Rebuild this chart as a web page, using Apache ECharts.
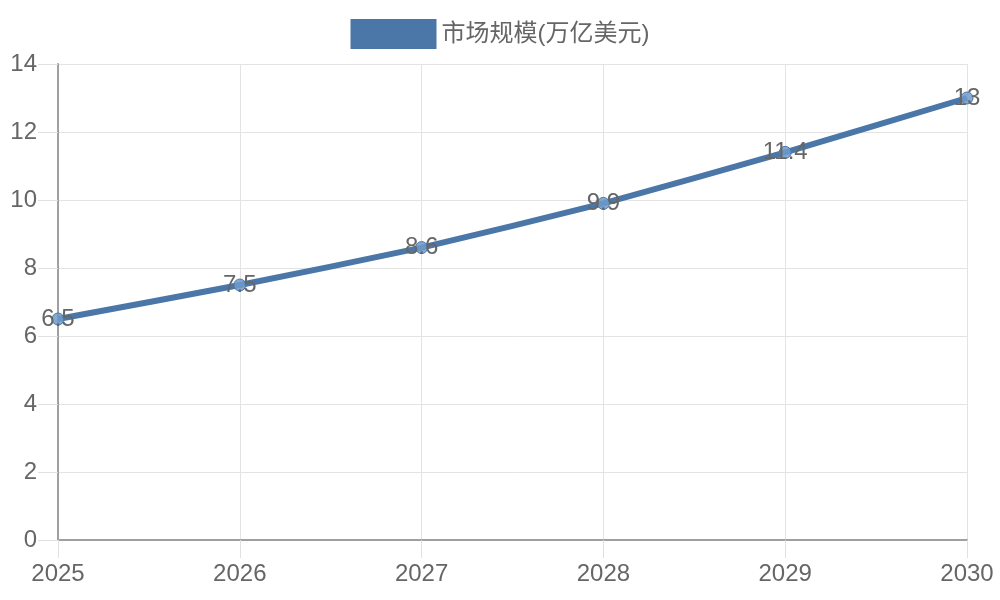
<!DOCTYPE html>
<html>
<head>
    <meta charset="utf-8">
    <style>
        html, body { margin: 0; padding: 0; background: #fff; }
        #chart { width: 1000px; height: 600px; }
    </style>
    <script src="https://cdn.jsdelivr.net/npm/echarts@6/dist/echarts.min.js"></script>
</head>
<body>
    <div id="chart"></div>
    <script type="text/javascript">
        // 数据
        var years = ['2025', '2026', '2027', '2028', '2029', '2030'];
        var marketSize = [6.5, 7.5, 8.6, 9.9, 11.4, 13];
        var seriesName = '市场规模(万亿美元)';

        var lineColor = '#4a77a8';
        var fontFamily = '"Liberation Sans", Arial, "Noto Sans CJK SC", sans-serif';

        var myChart = echarts.init(document.getElementById('chart'));
        myChart.setOption({
            animation: false,
            textStyle: { fontFamily: fontFamily },
            legend: {
                top: 14,
                left: 'center',
                icon: 'rect',
                itemWidth: 86,
                itemHeight: 30,
                itemGap: 10,
                itemStyle: { color: lineColor, borderWidth: 0 },
                textStyle: { fontSize: 24, color: '#666', fontFamily: fontFamily, padding: [0, 0, 0, 0] },
                data: [seriesName]
            },
            grid: { left: 58, right: 33, top: 64, bottom: 60 },
            xAxis: {
                type: 'category',
                data: years,
                boundaryGap: false,
                axisLine: { lineStyle: { color: '#a0a0a0', width: 2 } },
                axisTick: { show: true, length: 18, lineStyle: { color: '#e0e0e0', width: 1 } },
                axisLabel: { fontSize: 24, color: '#666', margin: 22 },
                splitLine: { show: true, lineStyle: { color: '#e3e3e3', width: 1 } }
            },
            yAxis: {
                type: 'value',
                min: 0,
                max: 14,
                interval: 2,
                axisLine: { show: true, lineStyle: { color: '#a0a0a0', width: 2 } },
                axisTick: { show: true, length: 20, lineStyle: { color: '#e0e0e0', width: 1 } },
                axisLabel: { fontSize: 24, color: '#666', margin: 21 },
                splitLine: { show: true, lineStyle: { color: '#e3e3e3', width: 1 } }
            },
            series: [{
                name: seriesName,
                type: 'line',
                data: marketSize,
                smooth: 0.15,
                symbol: 'circle',
                symbolSize: 12,
                lineStyle: { color: lineColor, width: 6 },
                itemStyle: { color: 'rgba(110,155,205,0.85)', borderColor: lineColor, borderWidth: 1 },
                label: {
                    show: true,
                    position: 'inside',
                    fontSize: 24,
                    color: '#666'
                }
            }],
            color: [lineColor]
        });
    </script>
</body>
</html>
